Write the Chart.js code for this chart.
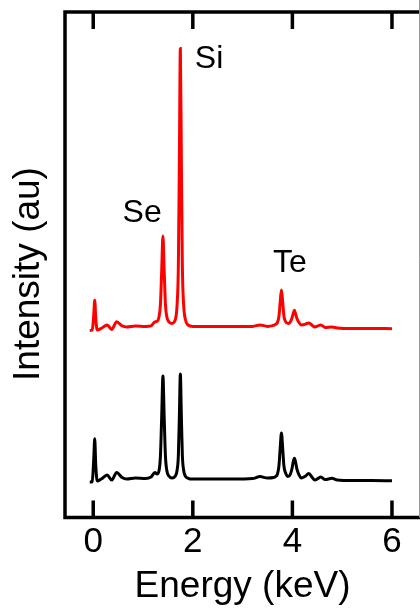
<!DOCTYPE html>
<html>
<head>
<meta charset="utf-8">
<script src="https://cdn.jsdelivr.net/npm/chart.js@4"></script>
<style>
  body { margin: 0; background: #fff; }
  #wrap { width: 420px; height: 609px; }
</style>
</head>
<body>
<div id="wrap"><canvas id="edsChart"></canvas></div>
<script>
// EDS spectra: energy in keV, intensity in arbitrary units (red trace offset above black)
const energy = [
  -0.07, -0.02, 0.01, 0.03, 0.05, 0.08, 0.16, 0.28, 0.37, 0.47, 0.58, 0.67, 0.85, 1.05,
  1.16, 1.24, 1.28, 1.32, 1.35, 1.375, 1.40, 1.425, 1.45, 1.48, 1.52, 1.58,
  1.65, 1.685, 1.71, 1.73, 1.75, 1.77, 1.79, 1.815, 1.85, 1.90, 2.00,
  2.40, 2.80, 3.20, 3.35, 3.50, 3.62, 3.66, 3.70, 3.73, 3.755, 3.78, 3.805, 3.83, 3.86,
  3.915, 3.96, 3.99, 4.015, 4.04, 4.065, 4.09, 4.13, 4.18, 4.25, 4.33, 4.40, 4.45,
  4.51, 4.57, 4.66, 4.79, 4.90, 5.20, 5.60, 6.00
];
const intensityRed = [
  37.0, 37.1, 40.0, 43.0, 39.5, 37.1, 37.4, 38.1, 37.2, 38.7, 37.9, 37.7, 37.9, 37.8,
  37.9, 38.7, 38.8, 39.6, 42.2, 48.8, 55.7, 48.8, 42.2, 39.6, 38.7, 38.4,
  39.2, 42.2, 49.9, 70.9, 92.8, 70.9, 49.9, 42.2, 39.2, 38.1, 37.8,
  37.8, 37.8, 37.8, 38.1, 37.8, 38.0, 38.2, 38.6, 39.8, 42.6, 45.0, 42.6, 39.8, 38.8,
  38.4, 38.7, 39.4, 40.3, 41.0, 40.3, 39.4, 38.6, 38.1, 38.2, 38.5, 38.0, 37.7,
  37.9, 38.1, 37.6, 37.7, 37.5, 37.4, 37.4, 37.35
];
const intensityBlack = [
  7.0, 7.1, 11.5, 15.6, 10.5, 7.2, 7.6, 8.4, 7.4, 8.9, 7.9, 7.6, 7.8, 7.7,
  8.0, 8.9, 8.6, 9.2, 12.2, 19.9, 28.0, 19.9, 12.2, 9.2, 8.2, 7.8,
  8.2, 9.4, 12.3, 20.1, 28.4, 20.1, 12.3, 9.4, 8.2, 7.8, 7.6,
  7.6, 7.6, 7.7, 8.1, 7.8, 7.9, 8.1, 8.6, 10.2, 13.7, 16.7, 13.7, 10.2, 8.9,
  8.1, 8.6, 9.6, 10.9, 11.7, 10.9, 9.6, 8.5, 7.8, 8.1, 8.7, 7.9, 7.4,
  7.7, 8.0, 7.5, 7.75, 7.4, 7.3, 7.3, 7.25
];
const xTicks = [0, 2, 4, 6];

// element labels, anchored in data coordinates (keV, au)
const peakNames = ['Se', 'Si', 'Te'];
const peakLabelEnergy = [0.59, 2.04, 3.61];
const peakLabelIntensity = [58.4, 88.9, 48.6];

Chart.defaults.font.family = '"Liberation Sans", Arial, sans-serif';
Chart.defaults.color = '#000';

const toPoints = ys => energy.map((e, i) => ({ x: e, y: ys[i] }));

// box frame with inward ticks, element labels and the rotated y title
const framePlugin = {
  id: 'frame',
  afterDraw(chart) {
    const { ctx, chartArea: a, scales } = chart;
    const x = scales.x, y = scales.y;
    ctx.save();
    ctx.strokeStyle = '#000';
    ctx.lineWidth = 3.5;
    ctx.beginPath();
    ctx.moveTo(a.right, a.top);
    ctx.lineTo(a.left, a.top);
    ctx.lineTo(a.left, a.bottom);
    ctx.lineTo(a.right, a.bottom);
    ctx.stroke();

    ctx.beginPath();
    xTicks.forEach(t => {
      const px = x.getPixelForValue(t);
      ctx.moveTo(px, a.top);
      ctx.lineTo(px, a.top + 17);
      ctx.moveTo(px, a.bottom);
      ctx.lineTo(px, a.bottom - 17);
    });
    ctx.stroke();

    ctx.strokeStyle = '#999';
    ctx.lineWidth = 1;
    ctx.beginPath();
    ctx.moveTo(a.right - 0.5, 0);
    ctx.lineTo(a.right - 0.5, a.bottom);
    ctx.stroke();

    ctx.fillStyle = '#000';
    ctx.font = '32px "Liberation Sans", Arial, sans-serif';
    ctx.textAlign = 'left';
    ctx.textBaseline = 'alphabetic';
    peakNames.forEach((name, i) => {
      ctx.fillText(name, x.getPixelForValue(peakLabelEnergy[i]), y.getPixelForValue(peakLabelIntensity[i]));
    });

    ctx.font = '37px "Liberation Sans", Arial, sans-serif';
    ctx.textAlign = 'center';
    ctx.textBaseline = 'middle';
    ctx.translate(29, 274);
    ctx.rotate(-Math.PI / 2);
    ctx.fillText('Intensity (au)', 0, 0);
    ctx.restore();
  }
};

new Chart(document.getElementById('edsChart'), {
  type: 'scatter',
  data: {
    datasets: [
      {
        label: 'red',
        data: toPoints(intensityRed),
        showLine: true,
        borderColor: '#ff0000',
        borderWidth: 3,
        pointRadius: 0,
        cubicInterpolationMode: 'monotone'
      },
      {
        label: 'black',
        data: toPoints(intensityBlack),
        showLine: true,
        borderColor: '#000000',
        borderWidth: 3,
        pointRadius: 0,
        cubicInterpolationMode: 'monotone'
      }
    ]
  },
  options: {
    responsive: true,
    maintainAspectRatio: false,
    animation: false,
    layout: { padding: { top: 12, right: 0, left: 0, bottom: 0 } },
    plugins: { legend: { display: false }, tooltip: { enabled: false } },
    scales: {
      x: {
        type: 'linear',
        min: -0.567,
        max: 6.563,
        afterBuildTicks: s => { s.ticks = xTicks.map(v => ({ value: v })); },
        afterFit: s => { s.height = 91.5; },
        grid: { display: false, drawTicks: false },
        border: { display: false },
        ticks: { font: { size: 35 }, padding: 4, maxRotation: 0 },
        title: { display: true, text: 'Energy (keV)', font: { size: 37 }, padding: { top: 0, bottom: 0 } }
      },
      y: {
        min: 0,
        max: 100,
        afterFit: s => { s.width = 65; },
        grid: { display: false, drawTicks: false },
        border: { display: false },
        ticks: { display: false }
      }
    }
  },
  plugins: [framePlugin]
});
</script>
</body>
</html>
